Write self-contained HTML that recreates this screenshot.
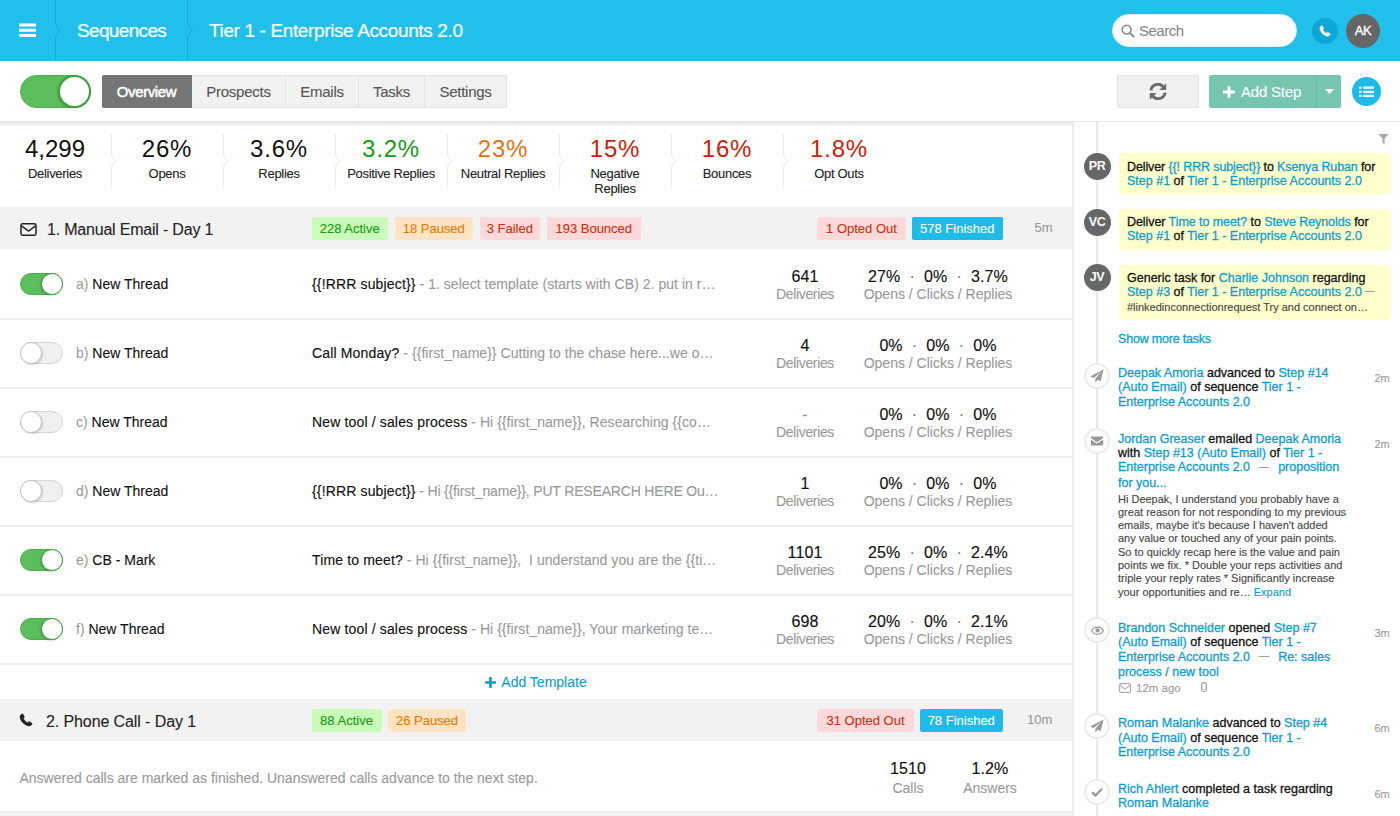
<!DOCTYPE html>
<html>
<head>
<meta charset="utf-8">
<title>Sequences</title>
<style>
*{box-sizing:border-box;margin:0;padding:0}
html,body{width:1400px;height:816px;overflow:hidden;background:#fff}
body{font-family:"Liberation Sans",sans-serif;font-size:14px;color:#111;position:relative;-webkit-text-stroke:.1px}
.abs{position:absolute}
a,.lk{color:#0f9dce;text-decoration:none}
/* header */
#hdr{position:absolute;left:0;top:0;width:1400px;height:61px;background:#20c0ea}
#hdr .t{position:absolute;top:0px;height:61px;line-height:61px;color:#fff;font-size:19px;white-space:nowrap;-webkit-text-stroke:.2px #fff}
#search{position:absolute;left:1112px;top:14px;width:185px;height:33px;border-radius:17px;background:#fff;border:1px solid #d9eef5}
#search span{position:absolute;left:26px;top:0;line-height:31px;font-size:15px;color:#888;letter-spacing:-.5px}
.circ{position:absolute;border-radius:50%}
/* toolbar */
#tb{position:absolute;left:0;top:61px;width:1400px;height:61px;background:#fff;border-bottom:1px solid #e6e6e6}
.tab{position:absolute;top:14px;height:33px;line-height:31px;text-align:center;font-size:15px;color:#555;background:#f1f1f1;border:1px solid #e3e3e3;border-left:none;letter-spacing:-.25px}
.tab.on{background:#767676;color:#fff;border-color:#767676;border-radius:2px 0 0 2px;letter-spacing:-.4px;-webkit-text-stroke:.5px}
/* toggles */
.tg{position:absolute;border-radius:20px}
.tg.on{background:#5cbd5c;border:1px solid #4cae4c}
.tg.off{background:#f0f0f0;border:1px solid #d6d6d6}
.tg i{position:absolute;top:-1px;border-radius:50%;background:#fff}
.tg.on i{right:-1px;border:1px solid #3f9f3f;box-shadow:-1px 1px 2px rgba(0,0,0,.15)}
.tg.off i{left:-1px;border:1px solid #c4c4c4;box-shadow:1px 1px 2px rgba(0,0,0,.15)}
.tg.big{width:71px;height:33px}.tg.big i{width:33px;height:33px;border-width:2px !important}
.tg.sm{width:43px;height:22px;left:20px}.tg.sm i{width:22px;height:22px}
/* main */
#main{position:absolute;left:0;top:122px;width:1072px;height:694px;background:#fff;overflow:hidden}
.stat{position:absolute;top:0;width:112px;text-align:center}
.stat b{display:block;font-weight:400;-webkit-text-stroke:0;font-size:24px;line-height:28px;margin-top:13px;letter-spacing:0}
.stat b.p{letter-spacing:.8px}
.stat span{display:block;font-size:13px;line-height:15px;margin-top:3px;letter-spacing:-.3px;color:#222}
.sh{position:absolute;left:0;width:1072px;height:42px;background:#f2f2f2}
.sh .ttl{position:absolute;left:47px;top:1.5px;line-height:42px;font-size:16px;color:#222;letter-spacing:-.2px;white-space:nowrap}
.bd{position:absolute;top:10px;height:23px;line-height:23px;font-size:13px;text-align:center;border-radius:2px;white-space:nowrap}
.bd.g{background:#c9fbb9;color:#159915}
.bd.o{background:#ffe3c2;color:#e87a00}
.bd.r{background:#ffd9d9;color:#c9300c}
.bd.b{background:#1fbbe8;color:#fff}
.sh .tm{position:absolute;top:0;line-height:42px;font-size:13px;color:#999}
.row{position:absolute;left:0;width:1072px;height:71px;border-bottom:2px solid #f0f0f0}
.row .nm{position:absolute;left:76px;top:0;line-height:71px;font-size:14px;white-space:nowrap;color:#111;-webkit-text-stroke:.12px}
.row .nm em{font-style:normal;color:#999;-webkit-text-stroke:0}
.row .sub{position:absolute;left:312px;top:0;width:414px;letter-spacing:.04px;line-height:71px;font-size:14px;white-space:nowrap;overflow:hidden;color:#999;-webkit-text-stroke:.1px}
.row .sub b{font-weight:400;color:#111;letter-spacing:.15px;-webkit-text-stroke:.15px}
.row .c1{position:absolute;left:755px;width:100px;top:17.7px;text-align:center}
.row .c2{position:absolute;left:838px;width:200px;top:17.7px;text-align:center}
.row .n{display:block;font-size:16px;line-height:19.5px;color:#111;white-space:pre;-webkit-text-stroke:.15px;letter-spacing:.1px}
.row .l{display:block;font-size:14px;line-height:17px;color:#999;white-space:nowrap;-webkit-text-stroke:.1px}
.row .n s{text-decoration:none;color:#777}
/* sidebar */
#side{position:absolute;left:1072px;top:122px;width:328px;height:694px;background:#fff;border-left:2px solid #ececec;overflow:hidden}
#tl{position:absolute;left:1096px;top:122px;width:2px;height:694px;background:#e9e9e9}
.av{position:absolute;left:1083.5px;width:27px;height:27px;border-radius:50%;background:#676767;color:#fff;font-size:12.5px;font-weight:700;text-align:center;line-height:27px;letter-spacing:-.4px;-webkit-text-stroke:0}
.yb,.ft{-webkit-text-stroke:.3px}
.body11,.sm11{-webkit-text-stroke:.12px}
.yb{position:absolute;left:1118.5px;width:272px;background:#ffffcb;border-radius:4px;padding:6px 8.5px;font-size:12.5px;line-height:14.4px;color:#111;white-space:nowrap}
.sm11{font-size:11px;color:#444}
.ic{position:absolute;left:1083.5px;width:26px;height:26px;margin-top:-.5px;border-radius:50%;background:#fff;border:2px solid #ebebeb}
.ic svg{position:absolute;left:0;top:0;width:22px;height:22px}
.ft{position:absolute;left:1118px;font-size:12.5px;line-height:14.4px;color:#111;white-space:nowrap}
.ft.lk{color:#0f9dce}
.ftm{position:absolute;left:1374.5px;font-size:11px;color:#999;line-height:14px}
.body11{position:absolute;left:1118px;font-size:11px;line-height:13.3px;color:#444;white-space:nowrap}
</style>
</head>
<body>
<!-- HEADER -->
<div id="hdr">
  <svg class="abs" style="left:19px;top:23px" width="17" height="15" viewBox="0 0 17 15"><rect x="0" y="0.5" width="17" height="3" rx=".6" fill="#fff"/><rect x="0" y="5.8" width="17" height="3" rx=".6" fill="#fff"/><rect x="0" y="11.1" width="17" height="3" rx=".6" fill="#fff"/></svg>
  <svg class="abs" style="left:52px;top:0" width="10" height="61" viewBox="0 0 10 61"><path d="M3.5 0V24L8 30.5L3.5 37V61" fill="none" stroke="#18a9d2" stroke-width="1"/></svg>
  <svg class="abs" style="left:184px;top:0" width="10" height="61" viewBox="0 0 10 61"><path d="M3.5 0V24L8 30.5L3.5 37V61" fill="none" stroke="#18a9d2" stroke-width="1"/></svg>
  <div class="t" style="left:77px;letter-spacing:-.65px">Sequences</div>
  <div class="t" style="left:209px;letter-spacing:-.37px">Tier 1 - Enterprise Accounts 2.0</div>
  <div id="search"><svg class="abs" style="left:7.5px;top:8.5px" width="14" height="14" viewBox="0 0 14 14"><circle cx="5.6" cy="5.6" r="4.4" fill="none" stroke="#888" stroke-width="1.6"/><path d="M8.9 8.9L12.6 12.6" stroke="#888" stroke-width="2" stroke-linecap="round"/></svg><span>Search</span></div>
  <div class="circ" style="left:1312px;top:18px;width:26px;height:26px;background:#0fa8d6"><svg class="abs" style="left:7px;top:7px" width="12" height="12" viewBox="0 0 12 12"><path d="M2.6 0.6C2.9 0.4 3.3 0.5 3.5 0.8L4.8 3C5 3.3 4.9 3.6 4.7 3.8L3.9 4.6C4.5 6 5.9 7.5 7.4 8.1L8.2 7.3C8.4 7.1 8.7 7 9 7.2L11.2 8.5C11.5 8.7 11.6 9.1 11.4 9.4C10.9 10.3 10 11.4 8.8 11.4C5 11.2 0.8 7 0.6 3.2C0.6 2 1.7 1.1 2.6 0.6Z" fill="#fff"/></svg></div>
  <div class="circ" style="left:1346px;top:13.5px;width:34px;height:34px;background:#666;color:#fff;text-align:center;line-height:34px;font-size:13px;letter-spacing:-.3px;-webkit-text-stroke:.35px #fff">AK</div>
</div>
<!-- TOOLBAR -->
<div id="tb">
  <div class="tg big on" style="left:20px;top:14px"><i></i></div>
  <div class="tab on" style="left:102px;width:90px">Overview</div>
  <div class="tab" style="left:192px;width:94px">Prospects</div>
  <div class="tab" style="left:286px;width:73px">Emails</div>
  <div class="tab" style="left:359px;width:66px">Tasks</div>
  <div class="tab" style="left:425px;width:82px">Settings</div>
  <div class="abs" style="left:1117px;top:14px;width:82px;height:33px;background:#f0f0f0;border:1px solid #e4e4e4;border-radius:2px">
    <svg class="abs" style="left:31px;top:7px" width="18" height="17" viewBox="0 0 18 17"><path d="M1.9 7.4A7 7 0 0 1 14.2 3.8" fill="none" stroke="#6a6a6a" stroke-width="2.9"/><path d="M17.2 0.2V7H10.4Z" fill="#6a6a6a"/><path d="M16.1 9.6A7 7 0 0 1 3.8 13.2" fill="none" stroke="#6a6a6a" stroke-width="2.9"/><path d="M0.8 16.8V10H7.6Z" fill="#6a6a6a"/></svg>
  </div>
  <div class="abs" style="left:1209px;top:14px;width:132px;height:33px;background:#76c5b1;border-radius:2px;color:#fff;font-size:15px;line-height:33px">
    <svg class="abs" style="left:14px;top:11px" width="12" height="12" viewBox="0 0 12 12"><path d="M4.6 0H7.4V4.6H12V7.4H7.4V12H4.6V7.4H0V4.6H4.6Z" fill="#fff"/></svg>
    <span class="abs" style="left:32px;top:0;letter-spacing:-.2px;white-space:nowrap">Add Step</span>
    <div class="abs" style="left:107px;top:0;width:1px;height:33px;background:#68b5a1"></div>
    <svg class="abs" style="left:116px;top:14px" width="9" height="5" viewBox="0 0 9 5"><path d="M0 0H9L4.5 5Z" fill="#fff"/></svg>
  </div>
  <div class="circ" style="left:1352px;top:16px;width:29px;height:29px;background:#1fbbe8">
    <svg class="abs" style="left:7px;top:8.7px" width="15" height="11.6" viewBox="0 0 15 13" preserveAspectRatio="none"><g fill="#fff"><rect x="0" y="0.5" width="2.6" height="2.6" rx=".5"/><rect x="4.2" y="0.5" width="10.8" height="2.6" rx=".5"/><rect x="0" y="5.2" width="2.6" height="2.6" rx=".5"/><rect x="4.2" y="5.2" width="10.8" height="2.6" rx=".5"/><rect x="0" y="9.9" width="2.6" height="2.6" rx=".5"/><rect x="4.2" y="9.9" width="10.8" height="2.6" rx=".5"/></g></svg>
  </div>
</div>
<!-- MAIN -->
<div id="main">
<div class="abs" style="left:0;top:0;width:1072px;height:4px;background:linear-gradient(#e6e6e6,#f3f3f3 60%,#fdfdfd)"></div>
<div class="stat" style="left:-1px"><b style="color:#111">4,299</b><span>Deliveries</span></div>
<div class="stat" style="left:111px"><b style="color:#111" class="p">26%</b><span>Opens</span></div>
<div class="stat" style="left:223px"><b style="color:#111" class="p">3.6%</b><span>Replies</span></div>
<div class="stat" style="left:335px"><b style="color:#159915" class="p">3.2%</b><span>Positive Replies</span></div>
<div class="stat" style="left:447px"><b style="color:#e8710a" class="p">23%</b><span>Neutral Replies</span></div>
<div class="stat" style="left:559px"><b style="color:#c9210a" class="p">15%</b><span>Negative<br>Replies</span></div>
<div class="stat" style="left:671px"><b style="color:#c9210a" class="p">16%</b><span>Bounces</span></div>
<div class="stat" style="left:783px"><b style="color:#c9210a" class="p">1.8%</b><span>Opt Outs</span></div>
<svg class="abs" style="left:109px;top:12px" width="10" height="54" viewBox="0 0 10 54"><path d="M2.5 0V21L6.5 26.5L2.5 32V54" fill="none" stroke="#e9e9e9" stroke-width="1"/></svg>
<svg class="abs" style="left:221px;top:12px" width="10" height="54" viewBox="0 0 10 54"><path d="M2.5 0V21L6.5 26.5L2.5 32V54" fill="none" stroke="#e9e9e9" stroke-width="1"/></svg>
<svg class="abs" style="left:333px;top:12px" width="10" height="54" viewBox="0 0 10 54"><path d="M2.5 0V21L6.5 26.5L2.5 32V54" fill="none" stroke="#e9e9e9" stroke-width="1"/></svg>
<svg class="abs" style="left:445px;top:12px" width="10" height="54" viewBox="0 0 10 54"><path d="M2.5 0V21L6.5 26.5L2.5 32V54" fill="none" stroke="#e9e9e9" stroke-width="1"/></svg>
<svg class="abs" style="left:557px;top:12px" width="10" height="54" viewBox="0 0 10 54"><path d="M2.5 0V21L6.5 26.5L2.5 32V54" fill="none" stroke="#e9e9e9" stroke-width="1"/></svg>
<svg class="abs" style="left:669px;top:12px" width="10" height="54" viewBox="0 0 10 54"><path d="M2.5 0V21L6.5 26.5L2.5 32V54" fill="none" stroke="#e9e9e9" stroke-width="1"/></svg>
<svg class="abs" style="left:781px;top:12px" width="10" height="54" viewBox="0 0 10 54"><path d="M2.5 0V21L6.5 26.5L2.5 32V54" fill="none" stroke="#e9e9e9" stroke-width="1"/></svg>

<div class="sh" style="top:85px"><svg class="abs" style="left:19.5px;top:16px" width="17" height="13" viewBox="0 0 18 14"><rect x="0.9" y="0.9" width="16.2" height="12.2" rx="1.8" fill="none" stroke="#222" stroke-width="1.6"/><path d="M1.5 3.2L9 8.6L16.5 3.2" fill="none" stroke="#222" stroke-width="1.6"/></svg><div class="ttl">1. Manual Email - Day 1</div><div class="bd g" style="left:311.5px;width:76.5px">228 Active</div><div class="bd o" style="left:394.5px;width:78.5px">18 Paused</div><div class="bd r" style="left:479.5px;width:60.5px">3 Failed</div><div class="bd r" style="left:546.5px;width:94.5px">193 Bounced</div><div class="bd r" style="left:817px;width:89px">1 Opted Out</div><div class="bd b" style="left:912px;width:90.5px">578 Finished</div><div class="tm" style="left:1034.5px">5m</div></div>
<div class="row" style="top:127px"><div class="tg sm on" style="top:24px"><i></i></div><div class="nm"><em>a)</em> New Thread</div><div class="sub"><b>{{!RRR subject}}</b> - 1. select template (starts with CB) 2. put in r…</div><div class="c1"><span class="n">641</span><span class="l" style="letter-spacing:-.35px">Deliveries</span></div><div class="c2"><span class="n">27%  <s>·</s>  0%  <s>·</s>  3.7%</span><span class="l">Opens / Clicks / Replies</span></div></div>
<div class="row" style="top:196px"><div class="tg sm off" style="top:24px"><i></i></div><div class="nm"><em>b)</em> New Thread</div><div class="sub"><b>Call Monday?</b> - {{first_name}} Cutting to the chase here...we o…</div><div class="c1"><span class="n">4</span><span class="l" style="letter-spacing:-.35px">Deliveries</span></div><div class="c2"><span class="n">0%  <s>·</s>  0%  <s>·</s>  0%</span><span class="l">Opens / Clicks / Replies</span></div></div>
<div class="row" style="top:265px"><div class="tg sm off" style="top:24px"><i></i></div><div class="nm"><em>c)</em> New Thread</div><div class="sub"><b>New tool / sales process</b> - Hi {{first_name}}, Researching {{co…</div><div class="c1"><span class="n" style="color:#999">-</span><span class="l" style="letter-spacing:-.35px">Deliveries</span></div><div class="c2"><span class="n">0%  <s>·</s>  0%  <s>·</s>  0%</span><span class="l">Opens / Clicks / Replies</span></div></div>
<div class="row" style="top:334px"><div class="tg sm off" style="top:24px"><i></i></div><div class="nm"><em>d)</em> New Thread</div><div class="sub"><b>{{!RRR subject}}</b><span style="letter-spacing:-.17px"> - Hi {{first_name}}, PUT RESEARCH HERE Ou…</span></div><div class="c1"><span class="n">1</span><span class="l" style="letter-spacing:-.35px">Deliveries</span></div><div class="c2"><span class="n">0%  <s>·</s>  0%  <s>·</s>  0%</span><span class="l">Opens / Clicks / Replies</span></div></div>
<div class="row" style="top:403px"><div class="tg sm on" style="top:24px"><i></i></div><div class="nm"><em>e)</em> CB - Mark</div><div class="sub"><b>Time to meet?</b> - Hi {{first_name}},&nbsp; I understand you are the {{ti…</div><div class="c1"><span class="n">1101</span><span class="l" style="letter-spacing:-.35px">Deliveries</span></div><div class="c2"><span class="n">25%  <s>·</s>  0%  <s>·</s>  2.4%</span><span class="l">Opens / Clicks / Replies</span></div></div>
<div class="row" style="top:472px"><div class="tg sm on" style="top:24px"><i></i></div><div class="nm"><em>f)</em> New Thread</div><div class="sub"><b>New tool / sales process</b> - Hi {{first_name}}, Your marketing te…</div><div class="c1"><span class="n">698</span><span class="l" style="letter-spacing:-.35px">Deliveries</span></div><div class="c2"><span class="n">20%  <s>·</s>  0%  <s>·</s>  2.1%</span><span class="l">Opens / Clicks / Replies</span></div></div>
<div class="abs" style="left:0;top:542px;width:1072px;height:36px;line-height:36px;text-align:center;font-size:14px;color:#0f9dce"><svg style="vertical-align:-1px;margin-right:5px" width="11" height="11" viewBox="0 0 12 12"><path d="M4.6 0H7.4V4.6H12V7.4H7.4V12H4.6V7.4H0V4.6H4.6Z" fill="#0f9dce"/></svg>Add Template</div>

<div class="sh" style="top:577px"><svg class="abs" style="left:19px;top:14px" width="14" height="14" viewBox="0 0 12 12"><path d="M2.6 0.6C2.9 0.4 3.3 0.5 3.5 0.8L4.8 3C5 3.3 4.9 3.6 4.7 3.8L3.9 4.6C4.5 6 5.9 7.5 7.4 8.1L8.2 7.3C8.4 7.1 8.7 7 9 7.2L11.2 8.5C11.5 8.7 11.6 9.1 11.4 9.4C10.9 10.3 10 11.4 8.8 11.4C5 11.2 0.8 7 0.6 3.2C0.6 2 1.7 1.1 2.6 0.6Z" fill="#222"/></svg><div class="ttl" style="left:46px;letter-spacing:-.1px">2. Phone Call - Day 1</div><div class="bd g" style="left:311.5px;width:70px">88 Active</div><div class="bd o" style="left:388px;width:78px">26 Paused</div><div class="bd r" style="left:817px;width:97px">31 Opted Out</div><div class="bd b" style="left:920px;width:82.5px">78 Finished</div><div class="tm" style="left:1027px">10m</div></div>
<div class="abs" style="left:19.5px;top:621px;line-height:70px;font-size:14px;color:#999;white-space:nowrap">Answered calls are marked as finished. Unanswered calls advance to the next step.</div><div class="row" style="top:619px;height:70px;border:none"><div class="c1" style="left:858px;top:15.7px"><span class="n" style="line-height:23px">1510</span><span class="l">Calls</span></div><div class="c2" style="left:940px;width:100px;top:15.7px"><span class="n" style="line-height:23px">1.2%</span><span class="l">Answers</span></div></div><div class="abs" style="left:0;top:689px;width:1072px;height:6px;background:#f2f2f2;border-top:1px solid #ececec"></div>
</div>
<!-- SIDEBAR -->
<div id="side"></div>
<div id="tl"></div>
<svg class="abs" style="left:1378px;top:134px" width="11" height="11" viewBox="0 0 11 11"><path d="M0.3 0H10.7L6.6 4.6V10.6L4.4 8.6V4.6Z" fill="#aaa"/></svg>
<div class="av" style="top:153px">PR</div><div class="yb" style="top:153px;height:40.5px;padding-top:6.5px"><span style="letter-spacing:-.12px">Deliver <span class="lk">{{! RRR subject}}</span> to <span class="lk">Ksenya Ruban</span> for</span><br><span class="lk">Step #1</span> of <span class="lk">Tier 1 - Enterprise Accounts 2.0</span></div>
<div class="av" style="top:209px">VC</div><div class="yb" style="top:209px;height:40.5px"><span style="letter-spacing:-.07px">Deliver <span class="lk">Time to meet?</span> to <span class="lk">Steve Reynolds</span> for</span><br><span class="lk">Step #1</span> of <span class="lk">Tier 1 - Enterprise Accounts 2.0</span></div>
<div class="av" style="top:264px">JV</div><div class="yb" style="top:264.5px;height:55px">Generic task for <span class="lk">Charlie Johnson</span> regarding<br><span class="lk">Step #3</span> of <span class="lk">Tier 1 - Enterprise Accounts 2.0</span> <span style="color:#888;font-size:9px;position:relative;top:-1.5px">—</span><br><span class="sm11" style="line-height:15px">#linkedinconnectionrequest Try and connect on…</span></div>
<div class="ft lk" style="top:331.5px;letter-spacing:-.2px">Show more tasks</div>
<div class="ic" style="top:363px"><svg viewBox="0 0 21 21"><path d="M16.8 4.2L4 10.9L7.4 12.4L14.6 6.4L8.9 13.2V17L11.1 14.1L13.9 15.4Z" fill="#999"/></svg></div><div class="ft" style="top:365.8px"><span class="lk">Deepak Amoria</span> advanced to <span class="lk">Step #14</span><br><span class="lk">(Auto Email)</span> of sequence <span class="lk">Tier 1 -</span><br><span class="lk">Enterprise Accounts 2.0</span></div><div class="ftm" style="top:371px">2m</div>
<div class="ic" style="top:428px"><svg viewBox="0 0 21 21"><path d="M4.6 7.2C4.6 6.6 5 6.2 5.6 6.2H15.4C16 6.2 16.4 6.6 16.4 7.2V7.6L10.5 11.6L4.6 7.6Z M4.6 9L10.5 13L16.4 9V13.8C16.4 14.4 16 14.8 15.4 14.8H5.6C5 14.8 4.6 14.4 4.6 13.8Z" fill="#999"/></svg></div><div class="ft" style="top:431.6px"><span class="lk">Jordan Greaser</span> emailed <span class="lk">Deepak Amoria</span><br>with <span class="lk">Step #13 (Auto Email)</span> of <span class="lk">Tier 1 -</span><br><span class="lk">Enterprise Accounts 2.0</span> <span style="color:#999;font-size:10px;position:relative;top:-1.5px">&nbsp;&nbsp;—&nbsp;&nbsp;</span> <span class="lk">proposition</span><br><span class="lk">for you...</span></div><div class="ftm" style="top:436.5px">2m</div>
<div class="body11" style="top:492.5px">Hi Deepak, I understand you probably have a<br>great reason for not responding to my previous<br>emails, maybe it's because I haven't added<br>any value or touched any of your pain points.<br>So to quickly recap here is the value and pain<br>points we fix. * Double your reps activities and<br>triple your reply rates * Significantly increase<br>your opportunities and re… <span class="lk">Expand</span></div>
<div class="ic" style="top:617.5px"><svg viewBox="0 0 21 21"><path d="M5.4 11.2C7 8.6 9 7.8 11 7.8S15 8.6 16.6 11.2C15 13.8 13 14.6 11 14.6S7 13.8 5.4 11.2Z" fill="none" stroke="#999" stroke-width="1.2"/><circle cx="11" cy="10.9" r="2" fill="#999"/></svg></div><div class="ft" style="top:620.7px"><span class="lk">Brandon Schneider</span> opened <span class="lk">Step #7</span><br><span class="lk">(Auto Email)</span> of sequence <span class="lk">Tier 1 -</span><br><span class="lk">Enterprise Accounts 2.0</span> <span style="color:#999;font-size:10px;position:relative;top:-1.5px">&nbsp;&nbsp;—&nbsp;&nbsp;</span> <span class="lk">Re: sales</span><br><span class="lk">process / new tool</span></div><div class="ftm" style="top:625.5px">3m</div>
<svg class="abs" style="left:1119px;top:682.5px" width="12" height="10" viewBox="0 0 12 10"><rect x="0.6" y="0.6" width="10.8" height="8.8" rx="1.2" fill="none" stroke="#aaa" stroke-width="1.1"/><path d="M1 2.2L6 6.4L11 2.2" fill="none" stroke="#aaa" stroke-width="1.1"/></svg><div class="abs" style="left:1136px;top:680.5px;font-size:11.5px;line-height:14px;color:#999">12m ago</div><svg class="abs" style="left:1201px;top:682px" width="6" height="10" viewBox="0 0 6 10"><rect x="0.5" y="0.5" width="5" height="9" rx="1" fill="none" stroke="#aaa" stroke-width="1"/><rect x="1.2" y="1.6" width="3.6" height="5.6" fill="#fff" stroke="#aaa" stroke-width=".5"/></svg>
<div class="ic" style="top:713.5px"><svg viewBox="0 0 21 21"><path d="M16.8 4.2L4 10.9L7.4 12.4L14.6 6.4L8.9 13.2V17L11.1 14.1L13.9 15.4Z" fill="#999"/></svg></div><div class="ft" style="top:716.2px"><span class="lk">Roman Malanke</span> advanced to <span class="lk">Step #4</span><br><span class="lk">(Auto Email)</span> of sequence <span class="lk">Tier 1 -</span><br><span class="lk">Enterprise Accounts 2.0</span></div><div class="ftm" style="top:720.5px">6m</div>
<div class="ic" style="top:779px"><svg viewBox="0 0 21 21"><path d="M5.8 10.8L9 13.9L15.2 7.4" fill="none" stroke="#999" stroke-width="2.2"/></svg></div><div class="ft" style="top:781.6px"><span class="lk">Rich Ahlert</span> completed a task regarding<br><span class="lk">Roman Malanke</span></div><div class="ftm" style="top:787px">6m</div><div class="abs" style="left:1119px;top:814px;font-size:11px;line-height:13px;color:#999;white-space:nowrap"><span style="color:#aaa">✎</span> Connect with <span class="lk">Roman M</span> on LinkedIn soon</div>

</body>
</html>
